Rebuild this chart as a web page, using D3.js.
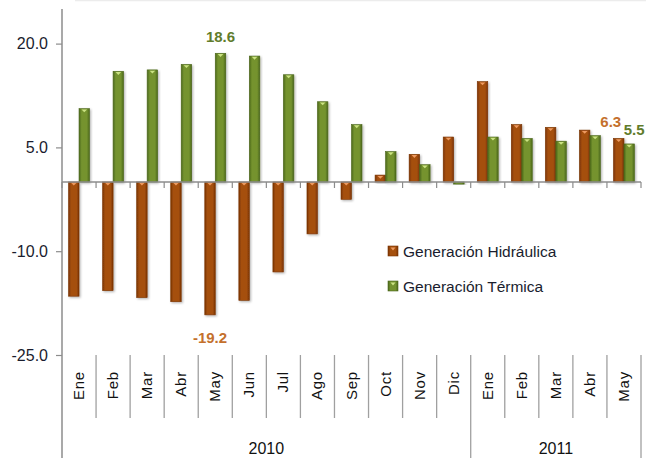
<!DOCTYPE html>
<html><head><meta charset="utf-8">
<script src="https://cdn.jsdelivr.net/npm/d3@7"></script>
<style>
html,body{margin:0;padding:0;background:#fff;}
svg{display:block;}
text{font-family:"Liberation Sans",Arial,sans-serif;}
</style></head>
<body>
<svg id="chart" width="646" height="458"></svg>
<script>
const months = ["Ene","Feb","Mar","Abr","May","Jun","Jul","Ago","Sep","Oct","Nov","Dic","Ene","Feb","Mar","Abr","May"];
const years = ["2010","2010","2010","2010","2010","2010","2010","2010","2010","2010","2010","2010","2011","2011","2011","2011","2011"];
const yearLabels = ["2010","2011"];
const hidraulica = [-16.5,-15.7,-16.7,-17.3,-19.2,-17.1,-13.0,-7.5,-2.5,1.0,4.0,6.5,14.5,8.3,7.9,7.5,6.3];
const termica = [10.6,16.0,16.2,17.0,18.6,18.2,15.5,11.6,8.3,4.4,2.5,-0.3,6.5,6.3,5.9,6.7,5.5];
const seriesNames = ["Generación Hidráulica","Generación Térmica"];
const yTicks = [-25,-10,5,20];
const labeled = [
  {s:1, i:4, text:"18.6"},
  {s:0, i:4, text:"-19.2"},
  {s:0, i:16, text:"6.3"},
  {s:1, i:16, text:"5.5"}
];

(function(){
const svg = d3.select("#chart");
const pLeft = 62, pRight = 641, pTop = 9, pBottom = 355;
const idx = d3.range(months.length);
const x0 = d3.scaleBand().domain(idx).range([pLeft, pRight]).paddingInner(0.385).paddingOuter(0.1925);
const xOuter = d3.scaleBand().domain(idx).range([pLeft, pRight]);
const x1 = d3.scaleBand().domain([0,1]).range([0, x0.bandwidth()]);
const y = d3.scaleLinear().domain([-25, 25]).range([pBottom, pTop]);

const colors = [
  {dark:"#7a3303", main:"#a5500e", hi:"#ee9a60", label:"#c4702c"},
  {dark:"#4b671b", main:"#74932f", hi:"#cbe383", label:"#617c2c"}
];

const defs = svg.append("defs");
colors.forEach((c,k)=>{
  const g = defs.append("linearGradient").attr("id","g"+k).attr("x1","0").attr("x2","1").attr("y1","0").attr("y2","0");
  g.append("stop").attr("offset","0%").attr("stop-color",c.dark);
  g.append("stop").attr("offset","25%").attr("stop-color",c.main);
  g.append("stop").attr("offset","75%").attr("stop-color",c.main);
  g.append("stop").attr("offset","100%").attr("stop-color",c.dark);
});
const f = defs.append("filter").attr("id","sh").attr("x","-30%").attr("y","-10%").attr("width","160%").attr("height","130%");
f.append("feDropShadow").attr("dx",1.2).attr("dy",1.2).attr("stdDeviation",0.9).attr("flood-color","#000").attr("flood-opacity",0.3);

svg.append("line").attr("x1",75).attr("x2",646).attr("y1",0.5).attr("y2",0.5).attr("stroke","#ececec").attr("stroke-width",1.5);

const data = [hidraulica, termica];
data.forEach((vals,k)=>{
  const g = svg.append("g");
  vals.forEach((v,i)=>{
    const bx = x0(i) + x1(k), bw = x1.bandwidth();
    const y0 = y(Math.max(0,v)), y1v = y(Math.min(0,v));
    g.append("rect").attr("x",bx).attr("y",y0).attr("width",bw).attr("height",Math.max(0.5,y1v-y0))
      .attr("fill","url(#g"+k+")").attr("stroke",colors[k].dark).attr("stroke-width",0.6).attr("filter","url(#sh)");
    if (Math.abs(y1v-y0) > 3) {
      const cx = bx + bw/2;
      g.append("path").attr("d",`M${cx-2.8},${y0+0.8}L${cx+2.8},${y0+0.8}L${cx},${y0+3.6}Z`).attr("fill",colors[k].hi);
    }
  });
});

svg.append("line").attr("x1",pLeft).attr("x2",pRight).attr("y1",y(0)).attr("y2",y(0)).attr("stroke","#8c8c8c").attr("stroke-width",1.5);
idx.concat([months.length]).forEach(i=>{
  const xx = i < months.length ? xOuter(i) : pRight;
  svg.append("line").attr("x1",xx).attr("x2",xx).attr("y1",y(0)).attr("y2",y(0)+6).attr("stroke","#8c8c8c").attr("stroke-width",1.2);
});

const fmt = d => d3.format(".1f")(d).replace("\u2212","-");
const yAxis = d3.axisLeft(y).tickValues(yTicks).tickFormat(fmt).tickSize(6).tickPadding(8);
const ya = svg.append("g").attr("transform",`translate(${pLeft},0)`).call(yAxis);
ya.select(".domain").remove();
ya.selectAll(".tick line").attr("stroke","#8c8c8c").attr("stroke-width",1.2);
ya.selectAll(".tick text").attr("font-size","16px").attr("fill","#1a1d2e").attr("font-family","Liberation Sans, Arial, sans-serif");
svg.append("line").attr("x1",pLeft).attr("x2",pLeft).attr("y1",pTop).attr("y2",458).attr("stroke","#8c8c8c").attr("stroke-width",1.5);

idx.forEach(i=>{
  if (i===0) return;
  const xx = xOuter(i);
  const isYear = years[i] !== years[i-1];
  svg.append("line").attr("x1",xx).attr("x2",xx).attr("y1",pBottom).attr("y2",isYear?458:418).attr("stroke","#a0a0a0").attr("stroke-width",1.3);
});
svg.append("line").attr("x1",pRight).attr("x2",pRight).attr("y1",pBottom).attr("y2",458).attr("stroke","#a0a0a0").attr("stroke-width",1.3);

months.forEach((m,i)=>{
  const cx = xOuter(i) + xOuter.bandwidth()/2;
  svg.append("text").attr("transform",`translate(${cx+5},371) rotate(-90)`)
    .attr("text-anchor","end").attr("font-size","15px").attr("letter-spacing","0.8px").attr("fill","#111")
    .text(m);
});
yearLabels.forEach(yr=>{
  const ids = idx.filter(i=>years[i]===yr);
  const xa = xOuter(ids[0]), xb = xOuter(ids[ids.length-1]) + xOuter.bandwidth();
  svg.append("text").attr("x",(xa+xb)/2).attr("y",454).attr("text-anchor","middle")
    .attr("font-size","16px").attr("fill","#111").text(yr);
});

const offsets = {"18.6":[0,-11],"-19.2":[0,28],"6.3":[-8,-11],"5.5":[5,-9]};
labeled.forEach(l=>{
  const v = data[l.s][l.i];
  const cx = x0(l.i) + x1(l.s) + x1.bandwidth()/2;
  const o = offsets[l.text];
  svg.append("text").attr("x",cx+o[0]).attr("y",y(v)+o[1]).attr("text-anchor","middle")
    .attr("font-size","15px").attr("font-weight","bold").attr("fill",colors[l.s].label).text(l.text);
});

const lg = svg.append("g").attr("transform","translate(388,246)");
seriesNames.forEach((n,k)=>{
  const g = lg.append("g").attr("transform",`translate(0,${k*35})`);
  g.append("rect").attr("width",10).attr("height",10).attr("fill","url(#g"+k+")").attr("stroke",colors[k].dark).attr("stroke-width",0.6);
  g.append("path").attr("d","M2.5,1.5L7.5,1.5L5,4.5Z").attr("fill",colors[k].hi);
  g.append("text").attr("x",15).attr("y",5).attr("dy","0.36em").attr("font-size","15.5px").attr("fill","#1a1d2e").text(n);
});
})();
</script>
</body></html>
